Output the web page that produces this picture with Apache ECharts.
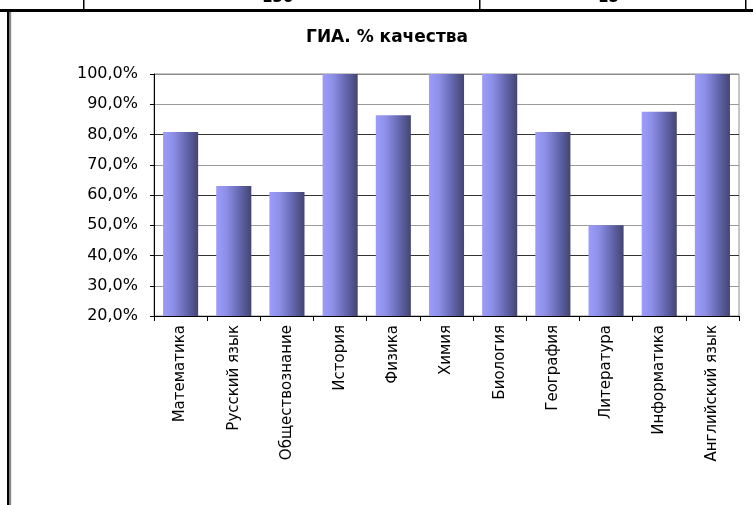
<!DOCTYPE html>
<html>
<head>
<meta charset="utf-8">
<script src="https://cdn.jsdelivr.net/npm/echarts@6/dist/echarts.min.js"></script>
<style>
html,body{margin:0;padding:0;background:#fff;}
#chart{width:753px;height:505px;}
</style>
</head>
<body>
<div id="chart"></div>
<script>
const titleText = 'ГИА. % качества';
const categories = ['Математика','Русский язык','Обществознание','История','Физика','Химия','Биология','География','Литература','Информатика','Английский язык'];
const quality = [80.8, 63.0, 61.0, 100, 86.4, 100, 100, 80.8, 50.0, 87.5, 100];
const yMin = 20, yMax = 100, yStep = 10;
const topRowTexts = ['136', '15'];

const chart = echarts.init(document.getElementById('chart'), null, {renderer:'canvas'});
const FONT = '"DejaVu Sans", sans-serif';

chart.setOption({
  animation: false,
  backgroundColor: '#ffffff',
  title: {
    text: titleText,
    left: 382, top: 24,
    textAlign: 'center',
    textStyle: {fontFamily: FONT, fontSize: 17, fontWeight: 'bold', color: '#000'}
  },
  grid: {
    left: 154, right: 14, top: 74, bottom: 189,
    show: true, borderColor: '#8c8c8c', borderWidth: 1, backgroundColor: 'transparent'
  },
  xAxis: {
    type: 'category',
    data: categories,
    boundaryGap: true,
    axisLine: {lineStyle: {color: '#000', width: 1}},
    axisTick: {show: true, alignWithLabel: false, length: 5, lineStyle: {color: '#000'}},
    axisLabel: {
      rotate: 90, interval: 0, margin: 9,
      fontFamily: FONT, fontSize: 15, color: '#000'
    }
  },
  yAxis: {
    type: 'value',
    min: yMin, max: yMax, interval: yStep,
    axisLine: {show: true, lineStyle: {color: '#000', width: 1}},
    axisTick: {show: true, length: 4, lineStyle: {color: '#000'}},
    axisLabel: {
      margin: 16,
      fontFamily: FONT, fontSize: 16, color: '#000',
      formatter: v => v.toFixed(1).replace('.', ',') + '%'
    },
    splitLine: {
      show: true,
      lineStyle: {color: ['#000','#9a9a9a','#333','#9a9a9a','#333','#9a9a9a','#333','#9a9a9a','#8c8c8c'], width: 1}
    }
  },
  series: [{
    type: 'bar',
    data: quality,
    barCategoryGap: '34%',
    itemStyle: {
      color: new echarts.graphic.LinearGradient(0, 0, 1, 0, [
        {offset: 0, color: '#9c9dfb'},
        {offset: 0.3, color: '#8c8ee6'},
        {offset: 0.7, color: '#6063a8'},
        {offset: 1, color: '#434570'}
      ])
    }
  }],
  graphic: [
    {type: 'rect', shape: {x: 0, y: 9, width: 753, height: 3}, style: {fill: '#000'}, silent: true},
    {type: 'rect', shape: {x: 83, y: 0, width: 1.5, height: 10}, style: {fill: '#000'}, silent: true},
    {type: 'rect', shape: {x: 479, y: 0, width: 1.5, height: 10}, style: {fill: '#000'}, silent: true},
    {type: 'rect', shape: {x: 745, y: 0, width: 1.5, height: 10}, style: {fill: '#000'}, silent: true},
    {type: 'rect', shape: {x: 7, y: 12, width: 2.5, height: 493}, style: {fill: '#000'}, silent: true},
    {type: 'rect', shape: {x: 10, y: 12, width: 1.2, height: 493}, style: {fill: '#888'}, silent: true},
    {type: 'text', x: 262, y: 6, z: 10, style: {text: topRowTexts[0], font: 'bold 15px "DejaVu Sans", sans-serif', fill: '#000', verticalAlign: 'bottom', align: 'left'}, silent: true},
    {type: 'text', x: 598, y: 6, z: 10, style: {text: topRowTexts[1], font: 'bold 15px "DejaVu Sans", sans-serif', fill: '#000', verticalAlign: 'bottom', align: 'left'}, silent: true}
  ]
});
</script>
</body>
</html>
